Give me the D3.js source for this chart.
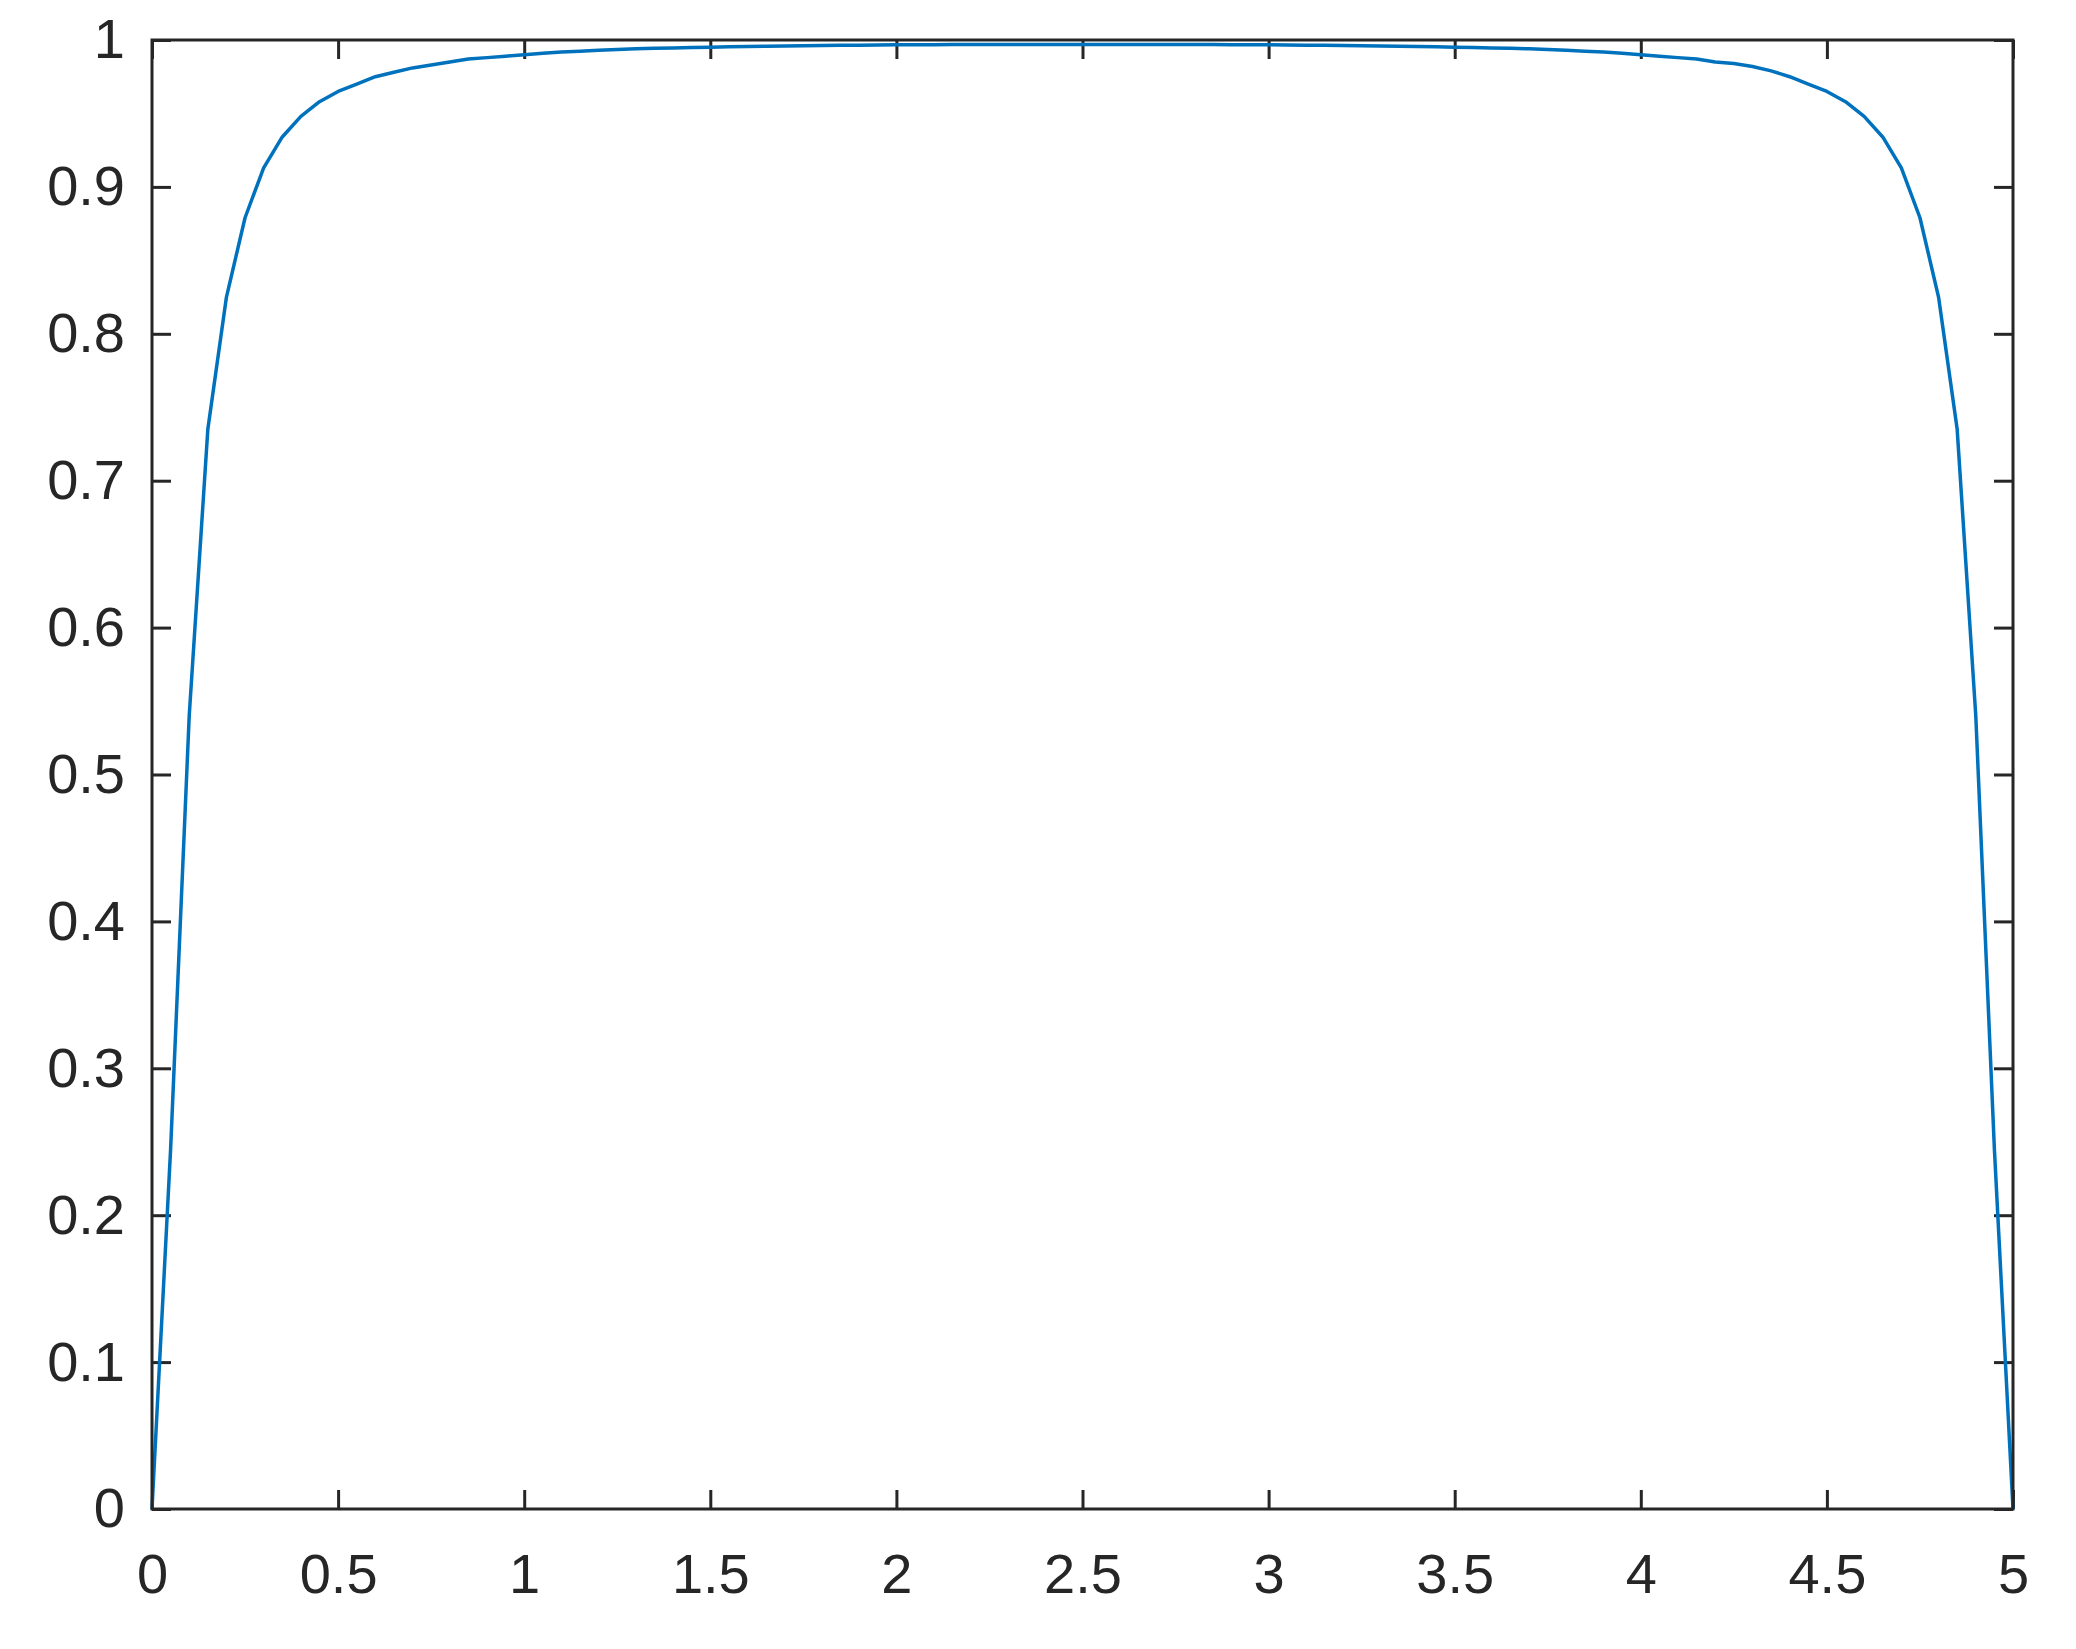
<!DOCTYPE html>
<html>
<head>
<meta charset="utf-8">
<script src="https://cdn.jsdelivr.net/npm/d3@7"></script>
<style>
  body { margin: 0; background: #fff; }
  .axis text { font-family: "Liberation Sans", Arial, Helvetica, sans-serif; font-size: 56px; fill: #262626; }
  .axis line { stroke: #262626; stroke-width: 3px; }
</style>
</head>
<body>
<div id="chart"></div>
<script>
// samples every 0.05 from 0 to 5
var xValues = d3.range(0, 101).map(i => i * 0.05);
var yValues = [
  0, 0.245, 0.540, 0.735, 0.825, 0.879, 0.913, 0.934, 0.948, 0.958,
  0.965, 0.970, 0.975, 0.978, 0.981, 0.983, 0.985, 0.987, 0.988, 0.989,
  0.990, 0.991, 0.9918, 0.9924, 0.9930, 0.9935, 0.9940, 0.9943, 0.9946, 0.9949,
  0.9951, 0.9954, 0.9956, 0.9958, 0.9960, 0.9961, 0.9963, 0.9964, 0.9965, 0.9966,
  0.9967, 0.9968, 0.9968, 0.9969, 0.9969, 0.9970, 0.9970, 0.9970, 0.9970, 0.9970,
  0.9970, 0.9970, 0.9970, 0.9970, 0.9970, 0.9970, 0.9969, 0.9969, 0.9968, 0.9968,
  0.9967, 0.9966, 0.9965, 0.9964, 0.9963, 0.9961, 0.9960, 0.9958, 0.9956, 0.9954,
  0.9951, 0.9949, 0.9946, 0.9943, 0.9940, 0.9935, 0.9930, 0.9924, 0.9918, 0.991,
  0.990, 0.989, 0.988, 0.987, 0.985, 0.984, 0.982, 0.979, 0.975, 0.970,
  0.965, 0.958, 0.948, 0.934, 0.913, 0.879, 0.825, 0.735, 0.540, 0.245,
  0
];
var xTicks = [0, 0.5, 1, 1.5, 2, 2.5, 3, 3.5, 4, 4.5, 5];
var yTicks = [0, 0.1, 0.2, 0.3, 0.4, 0.5, 0.6, 0.7, 0.8, 0.9, 1];

var margin = {top: 40, left: 152};
var width = 1861, height = 1469;
var tick = 19;

var svg = d3.select("#chart").append("svg")
  .attr("width", 2076)
  .attr("height", 1649)
  .append("g")
  .attr("transform", "translate(" + margin.left + "," + margin.top + ")");

var x = d3.scaleLinear().domain([0, 5]).range([0, width]);
var y = d3.scaleLinear().domain([0, 1]).range([height, 0]);

var fmt = d => String(d);

// bottom + left with labels, top + right just ticks
svg.append("g").attr("class", "axis")
  .attr("transform", "translate(0," + height + ")")
  .call(d3.axisBottom(x).tickValues(xTicks).tickFormat(fmt).tickSizeInner(-tick).tickSizeOuter(0).tickPadding(44));
svg.append("g").attr("class", "axis")
  .call(d3.axisLeft(y).tickValues(yTicks).tickFormat(fmt).tickSizeInner(-tick).tickSizeOuter(0).tickPadding(27));
svg.append("g").attr("class", "axis")
  .call(d3.axisTop(x).tickValues(xTicks).tickFormat("").tickSizeInner(-tick).tickSizeOuter(0));
svg.append("g").attr("class", "axis")
  .attr("transform", "translate(" + width + ",0)")
  .call(d3.axisRight(y).tickValues(yTicks).tickFormat("").tickSizeInner(-tick).tickSizeOuter(0));
svg.selectAll(".axis .domain").remove();

svg.append("path")
  .datum(d3.zip(xValues, yValues))
  .attr("fill", "none")
  .attr("stroke", "#0072BD")
  .attr("stroke-width", 3.5)
  .attr("stroke-linejoin", "round")
  .attr("d", d3.line().x(d => x(d[0])).y(d => y(d[1])));

svg.append("rect")
  .attr("width", width)
  .attr("height", height)
  .attr("fill", "none")
  .attr("stroke", "#262626")
  .attr("stroke-width", 3);
</script>
</body>
</html>
